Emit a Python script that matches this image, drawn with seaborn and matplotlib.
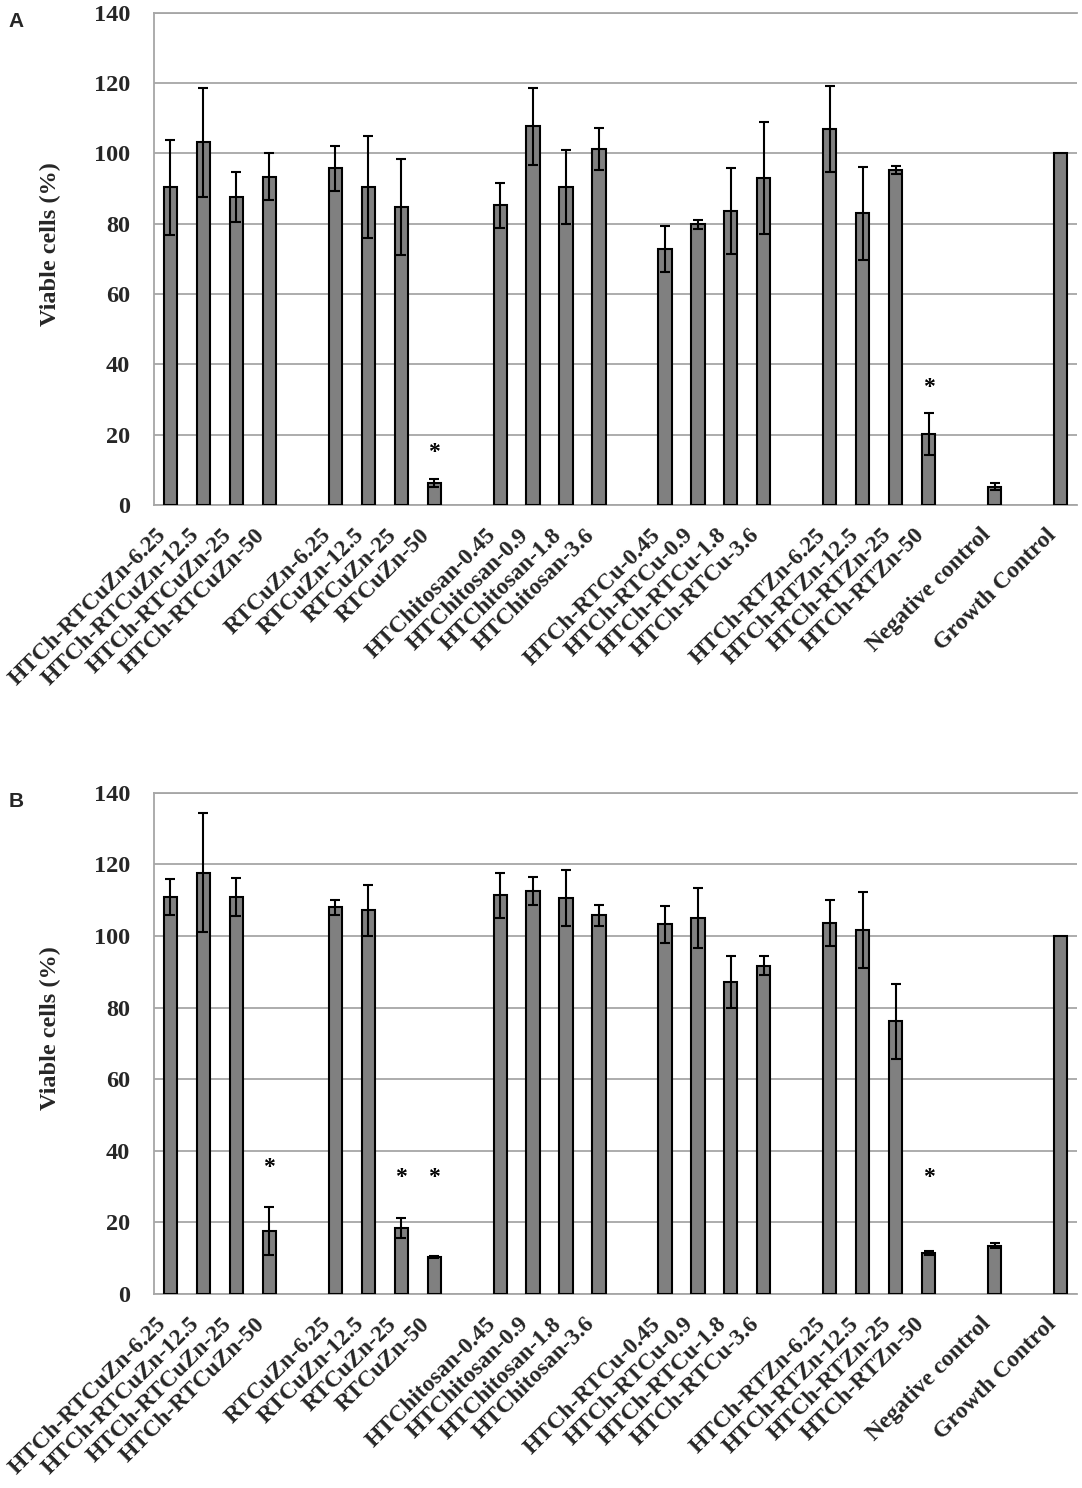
import matplotlib
matplotlib.use("Agg")
import matplotlib.pyplot as plt
import seaborn as sns
import pandas as pd
import numpy as np

# Data (viable cells %, mean and error)
cats = ['HTCh-RTCuZn-6.25', 'HTCh-RTCuZn-12.5', 'HTCh-RTCuZn-25', 'HTCh-RTCuZn-50',
        'RTCuZn-6.25', 'RTCuZn-12.5', 'RTCuZn-25', 'RTCuZn-50',
        'HTChitosan-0.45', 'HTChitosan-0.9', 'HTChitosan-1.8', 'HTChitosan-3.6',
        'HTCh-RTCu-0.45', 'HTCh-RTCu-0.9', 'HTCh-RTCu-1.8', 'HTCh-RTCu-3.6',
        'HTCh-RTZn-6.25', 'HTCh-RTZn-12.5', 'HTCh-RTZn-25', 'HTCh-RTZn-50',
        'Negative control', 'Growth Control']

vals_a = [90.4, 103.1, 87.7, 93.4, 95.7, 90.4, 84.8, 6.3, 85.2, 107.7, 90.4, 101.3,
          72.8, 79.8, 83.7, 93.0, 106.9, 82.9, 95.3, 20.3, 5.2, 100]
err_a = [13.5, 15.5, 7.1, 6.6, 6.4, 14.5, 13.7, 1.2, 6.4, 11.0, 10.5, 6.0,
         6.6, 1.3, 12.2, 15.8, 12.3, 13.2, 1.1, 6.0, 1.0, np.nan]

vals_b = [110.9, 117.7, 110.9, 17.5, 108.0, 107.2, 18.4, 10.3, 111.3, 112.5, 110.5, 105.7,
          103.2, 105.0, 87.2, 91.7, 103.6, 101.6, 76.2, 11.5, 13.5, 100]
err_b = [5.1, 16.5, 5.3, 6.7, 2.1, 7.1, 2.7, 0.3, 6.2, 4.0, 7.8, 3.0,
         5.1, 8.5, 7.2, 2.6, 6.5, 10.7, 10.5, 0.5, 0.8, np.nan]

# significance marks: category -> height of the asterisk
stars_a = {'RTCuZn-50': 15.0, 'HTCh-RTZn-50': 33.3}
stars_b = {'HTCh-RTCuZn-50': 35.3, 'RTCuZn-25': 32.4, 'RTCuZn-50': 32.4, 'HTCh-RTZn-50': 32.4}

# category order with empty slots between groups
order = []
for i, c in enumerate(cats):
    order.append(c)
    if i in (3, 7, 11, 15, 19, 20):
        order.append('_gap%d' % i)

sns.set_style('white')
plt.rcParams['font.family'] = ['Liberation Serif', 'DejaVu Serif']
plt.rcParams['font.weight'] = 'bold'

grid_col = '#a6a6a6'


def panel(ax, vals, errs, stars, letter):
    df = pd.DataFrame({'cat': cats, 'val': vals})
    sns.barplot(data=df, x='cat', y='val', order=order, color='#808080',
                saturation=1, width=0.4, edgecolor='black', linewidth=1.5,
                errorbar=None, ax=ax, zorder=3)
    xpos = [order.index(c) for c in cats]
    ax.errorbar(xpos, vals, yerr=errs, fmt='none', ecolor='black',
                elinewidth=1.5, capsize=3.5, capthick=1.5, zorder=4)
    for c, h in stars.items():
        ax.text(order.index(c), h, '*', ha='center', va='center',
                fontsize=17, fontweight='bold', color='black')

    ax.set_xlim(-0.5, len(order) - 0.5)
    ax.set_ylim(0, 140)
    ax.set_yticks(range(0, 141, 20))
    ax.yaxis.grid(True, color=grid_col, linewidth=1.3, zorder=0)
    ax.set_axisbelow(True)
    ax.tick_params(axis='y', labelsize=17.5, length=7, color=grid_col, width=1.2, pad=10)

    ax.set_xticks(range(len(order)))
    ax.set_xticklabels(['' if c.startswith('_') else c for c in order],
                       rotation=45, ha='right', fontsize=17)
    ax.tick_params(axis='x', which='major', length=0, pad=14)
    ax.set_xticks(np.arange(-0.5, len(order), 1.0), minor=True)
    ax.tick_params(axis='x', which='minor', length=7, color=grid_col, width=1.2,
                   direction='out')

    for s in ['left', 'bottom', 'top']:
        ax.spines[s].set_visible(True)
        ax.spines[s].set_color(grid_col)
        ax.spines[s].set_linewidth(1.3)
    ax.spines['right'].set_visible(False)

    ax.set_xlabel('')
    ax.set_ylabel('Viable cells (%)', fontsize=17.5, fontweight='bold')
    ax.yaxis.set_label_coords(-0.101, 0.53)

    ax.text(-0.158, 0.982, letter, transform=ax.transAxes, fontsize=15,
            fontweight='bold', family='Liberation Sans', ha='left', va='center')


fig = plt.figure(figsize=(10.82, 14.88), dpi=100)
ax_a = fig.add_axes([0.1423, 0.6606, 0.8531, 0.3309])
ax_b = fig.add_axes([0.1423, 0.1304, 0.8531, 0.3369])

panel(ax_a, vals_a, err_a, stars_a, 'A')
panel(ax_b, vals_b, err_b, stars_b, 'B')

fig.savefig('out.png', dpi=100)
